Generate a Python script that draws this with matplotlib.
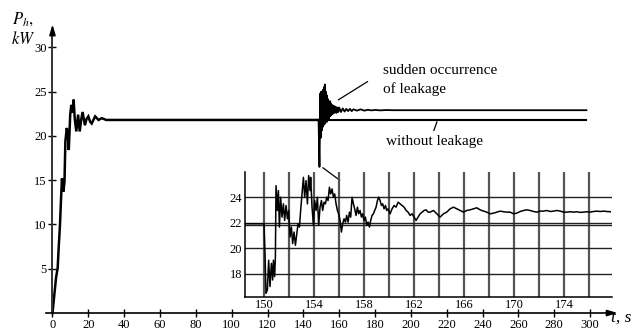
import matplotlib
matplotlib.use('Agg')
import matplotlib.pyplot as plt

plt.rcParams['font.family'] = ['Liberation Serif', 'DejaVu Serif']
plt.rcParams['mathtext.fontset'] = 'stix'

# ---------------- data ----------------
# start-up transient (common to both cases), t in s, P_h in kW
t_start = [0, 1.0, 2.0, 2.9, 3.5, 4.2, 4.8, 5.3, 5.7, 6.1, 6.7, 7.2, 8.0, 8.6,
           9.1, 9.9, 10.5, 11.0, 11.8, 12.4, 13.3, 14.3, 15.2, 16.0, 16.8, 18.1,
           19.0, 20.0, 21.0, 21.9, 23.8, 25.7, 27.5, 30.0, 148.5]
p_start = [0, 2.0, 4.0, 5.1, 7.5, 10.0, 13.0, 15.2, 14.0, 13.7, 14.8, 19.4, 20.9,
           20.0, 18.4, 22.4, 23.5, 22.6, 24.1, 22.0, 20.5, 22.4, 20.5, 21.8, 22.7,
           21.2, 21.9, 22.2, 21.6, 21.4, 22.2, 21.8, 22.0, 21.8, 21.8]

# without leakage: steady level
t_noleak = [148.5, 298]
p_noleak = [21.8, 21.8]

# with sudden leakage
t_leak = [148.5, 148.75, 149.0, 149.25, 149.5, 149.75, 150.0, 150.25, 150.5,
          150.75, 151.0, 151.25, 151.5, 151.75, 152.0, 152.25, 152.5, 152.75,
          153.0, 153.25, 153.5, 153.75, 154.0, 154.25, 154.5, 154.75, 155.0,
          155.25, 155.5, 155.75, 156.0, 156.5, 157.0, 157.5, 158.0, 158.5, 159.0,
          159.5, 160.0, 161.0, 162.0, 163.0, 164.0, 165.0, 166.0, 167.0, 168.0,
          170.0, 172.0, 174.0, 176.0, 178.0, 180.0, 183.0, 186.0, 190.0, 298.0]
p_leak = [21.8, 19.0, 16.5, 20.5, 24.8, 19.8, 25.0, 20.6, 24.6, 21.0, 25.2, 21.2,
          25.5, 21.5, 25.8, 21.4, 25.0, 21.8, 24.6, 21.6, 24.2, 22.0, 24.0, 21.9,
          23.8, 22.2, 23.9, 22.3, 23.6, 22.4, 23.5, 22.5, 23.4, 22.6, 23.3, 22.6,
          23.2, 22.7, 23.2, 22.7, 23.1, 22.75, 23.05, 22.8, 23.05, 22.8, 23.0,
          22.85, 23.0, 22.85, 22.95, 22.88, 22.93, 22.88, 22.92, 22.9, 22.9]

# zoomed view (inset)
t_zoom = [148.48, 150.0, 150.08, 150.16, 150.27, 150.37, 150.48, 150.59, 150.69,
          150.75, 150.85, 150.91, 150.96, 151.07, 151.15, 151.23, 151.33, 151.44,
          151.55, 151.65, 151.76, 151.87, 151.97, 152.08, 152.19, 152.29, 152.40,
          152.51, 152.61, 152.72, 152.83, 152.93, 153.04, 153.15, 153.25, 153.36,
          153.47, 153.57, 153.68, 153.73, 153.84, 153.95, 154.05, 154.16, 154.27,
          154.37, 154.48, 154.59, 154.69, 154.80, 154.91, 155.01, 155.12, 155.23,
          155.33, 155.44, 155.55, 155.65, 155.76, 155.87, 155.97, 156.08, 156.19,
          156.29, 156.40, 156.51, 156.61, 156.72, 156.83, 156.93, 157.04, 157.15,
          157.25, 157.36, 157.47, 157.57, 157.68, 157.79, 157.89, 158.00, 158.11,
          158.21, 158.32, 158.43, 158.53, 158.64, 158.75, 158.85, 158.96, 159.07,
          159.17, 159.28, 159.39, 159.49, 159.60, 159.71, 159.81, 159.92, 160.08,
          160.24, 160.40, 160.56, 160.72, 160.88, 161.04, 161.20, 161.36, 161.52,
          161.68, 161.84, 162.00, 162.16, 162.32, 162.48, 162.64, 162.80, 162.96,
          163.12, 163.28, 163.55, 163.81, 164.08, 164.35, 164.61, 164.88, 165.15,
          165.41, 165.68, 165.95, 166.21, 166.48, 166.75, 167.01, 167.28, 167.55,
          167.81, 168.08, 168.35, 168.61, 168.88, 169.15, 169.41, 169.68, 169.95,
          170.21, 170.48, 170.75, 171.01, 171.28, 171.55, 171.81, 172.08, 172.35,
          172.61, 172.88, 173.15, 173.41, 173.68, 173.95, 174.21, 174.48, 174.75,
          175.01, 175.28, 175.55, 175.81, 176.08, 176.35, 176.61, 176.88, 177.15,
          177.41, 177.68]
p_zoom = [21.92, 21.92, 19.5, 16.47, 16.73, 19.06, 16.99, 18.81, 17.51, 19.06,
          17.77, 19.32, 24.91, 22.96, 24.52, 21.66, 24.00, 22.44, 23.48, 22.18,
          23.35, 22.31, 22.96, 20.88, 21.66, 20.36, 21.27, 20.23, 21.01, 21.92,
          21.66, 22.96, 24.26, 25.56, 24.00, 25.30, 23.48, 25.69, 24.52, 25.56,
          23.22, 21.79, 23.74, 22.96, 24.00, 21.79, 23.22, 23.74, 22.96, 23.61,
          23.48, 24.00, 23.74, 24.78, 24.26, 24.65, 24.00, 24.26, 23.48, 22.96,
          22.70, 22.18, 21.27, 21.92, 22.31, 22.05, 22.57, 22.05, 22.83, 22.44,
          24.00, 23.48, 23.09, 22.57, 23.22, 22.70, 22.96, 22.44, 22.70, 22.18,
          22.44, 21.79, 22.05, 21.66, 22.18, 22.57, 22.70, 22.96, 23.22, 23.74,
          24.00, 23.74, 23.35, 23.48, 23.09, 23.35, 22.96, 23.09, 22.70, 23.09,
          23.35, 23.22, 23.61, 23.48, 23.35, 23.22, 22.96, 22.83, 22.57, 22.70,
          22.44, 22.18, 22.44, 22.70, 22.83, 22.96, 23.01, 22.83, 22.83, 22.96,
          22.70, 22.44, 22.70, 22.83, 23.09, 23.22, 23.09, 22.96, 22.83, 22.96,
          23.01, 23.09, 23.17, 23.01, 22.91, 22.83, 22.70, 22.75, 22.83, 22.91,
          22.86, 22.83, 22.83, 22.70, 22.75, 22.88, 22.96, 23.01, 22.96, 22.88,
          22.83, 22.91, 22.91, 22.96, 22.88, 22.91, 22.96, 22.91, 22.83, 22.83,
          22.86, 22.83, 22.86, 22.81, 22.83, 22.86, 22.83, 22.88, 22.91, 22.88,
          22.91, 22.88, 22.86]
zoom_level_noleak = 21.82

x_ticks = list(range(0, 301, 20))
y_ticks = [5, 10, 15, 20, 25, 30]
zoom_xticks = [150, 154, 158, 162, 166, 170, 174]
zoom_xgrid = list(range(150, 177, 2))
zoom_yticks = [18, 20, 22, 24]

# ---------------- figure ----------------
W, H = 633, 331
fig = plt.figure(figsize=(W / 100, H / 100), dpi=100)

ax = fig.add_axes([47.1 / W, 9.1 / H, 573.4 / W, 298.5 / H])
ax.set_xlim(-3, 317)
ax.set_ylim(-1, 32.7)
for s in ['top', 'right']:
    ax.spines[s].set_visible(False)
ax.spines['left'].set_position(('data', 0))
ax.spines['bottom'].set_position(('data', 0))
ax.spines['left'].set_bounds(0, 32.0)
ax.spines['bottom'].set_bounds(-3.5, 313)
ax.spines['left'].set_color('#333333')
ax.spines['left'].set_linewidth(1.4)
ax.spines['bottom'].set_linewidth(1.2)
ax.set_xticks(x_ticks)
ax.set_yticks(y_ticks)
ax.tick_params(direction='inout', length=6, width=1, labelsize=9, pad=1)
# axis arrowheads
ax.annotate('', xy=(317, 0), xytext=(310, 0),
            arrowprops=dict(arrowstyle='-|>,head_length=0.6,head_width=0.18',
                            color='k', lw=1.2), annotation_clip=False)
ax.annotate('', xy=(0, 32.9), xytext=(0, 31.0),
            arrowprops=dict(arrowstyle='-|>,head_length=0.6,head_width=0.18',
                            color='k', lw=1.2), annotation_clip=False)

ax.plot(t_start, p_start, color='k', lw=1.8, solid_joinstyle='miter')
ax.plot(t_noleak, p_noleak, color='k', lw=1.5)
ax.plot(t_leak, p_leak, color='k', lw=1.3)

fig.text(12 / W, 1 - 19 / H, r'$P_h,$', fontsize=12, va='center', ha='left')
fig.text(11 / W, 1 - 39 / H, r'$kW$', fontsize=12, va='center', ha='left')
fig.text(611 / W, 1 - 318 / H, 't, s', fontsize=12.5, fontstyle='italic',
         va='center', ha='left')

# annotations
ax.text(184.4, 27.4, 'sudden occurrence', fontsize=11, va='center', ha='left')
ax.text(184.4, 25.3, 'of leakage', fontsize=11, va='center', ha='left')
ax.text(186.1, 19.35, 'without leakage', fontsize=11, va='center', ha='left')
ax.annotate('', xy=(158.2, 23.9), xytext=(177.2, 26.3),
            arrowprops=dict(arrowstyle='-', color='k', lw=0.9))
ax.annotate('', xy=(215.1, 21.9), xytext=(212.3, 20.3),
            arrowprops=dict(arrowstyle='-', color='k', lw=0.9))

# inset
axin = fig.add_axes([245 / W, 34.3 / H, 366.7 / W, 125 / H])
axin.set_facecolor('none')
axin.set_xlim(148.48, 177.8)
axin.set_ylim(16.2, 26.0)
for s in ['top', 'right']:
    axin.spines[s].set_visible(False)
for s in ['left', 'bottom']:
    axin.spines[s].set_linewidth(1.1)
for gx in zoom_xgrid:
    axin.axvline(gx, color='#555555', lw=1.6, zorder=1)
for gy in zoom_yticks:
    axin.axhline(gy, color='#222222', lw=1.0, zorder=1)
axin.axhline(zoom_level_noleak, color='#222222', lw=1.0, zorder=1)
axin.plot(t_zoom, p_zoom, color='k', lw=1.1, zorder=3)
axin.set_xticks(zoom_xticks)
axin.set_yticks(zoom_yticks)
axin.tick_params(length=0, labelsize=9, pad=2)

ax.annotate('', xy=(161.6, 14.8), xytext=(149.6, 16.6),
            arrowprops=dict(arrowstyle='-', color='k', lw=0.9),
            annotation_clip=False)

fig.savefig('out.png', dpi=100)
